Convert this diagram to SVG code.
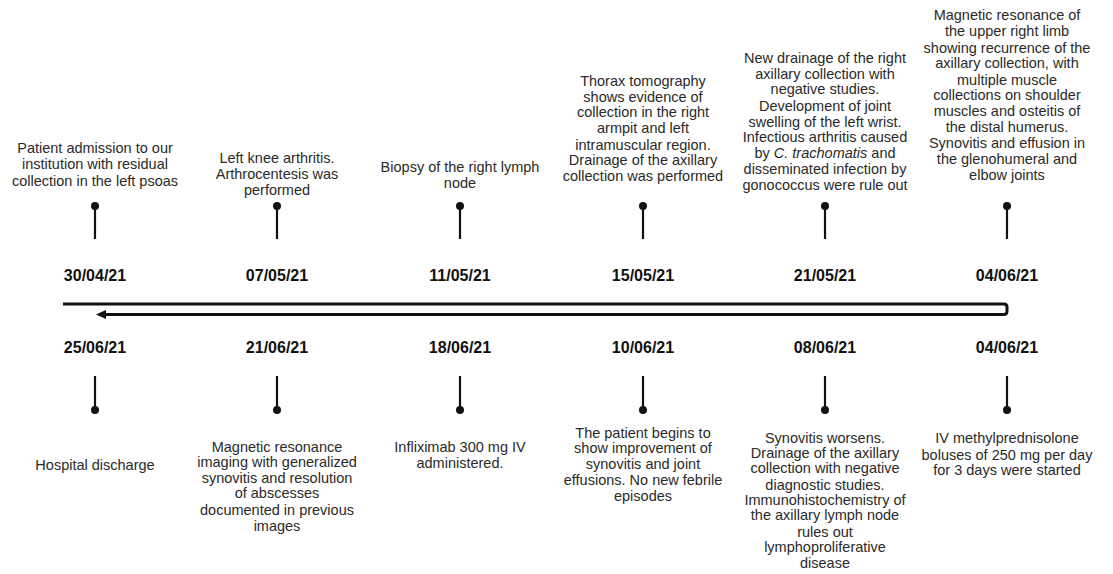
<svg xmlns="http://www.w3.org/2000/svg" width="1113" height="574" viewBox="0 0 1113 574">
<defs>
<style>
.t{font-family:"Liberation Sans",Arial,sans-serif;font-size:14.5px;fill:#2a2a2a;text-anchor:middle}
.d{font-family:"Liberation Sans",Arial,sans-serif;font-size:16px;font-weight:bold;fill:#111;text-anchor:middle}
.stem{stroke:#111;stroke-width:2.2;fill:none}
.dot{fill:#111}
.tl{stroke:#111;stroke-width:3;fill:none;stroke-linejoin:round}
</style>
<marker id="ah" markerWidth="10" markerHeight="8" refX="1" refY="4" orient="auto" markerUnits="userSpaceOnUse">
<path d="M0,4 L9,0 L9,8 Z" fill="#111"/>
</marker>
</defs>
<rect width="1113" height="574" fill="#fff"/>
<g id="connectors">
<path class="tl" d="M63,304 H1004 Q1007,304 1007,307 V311 Q1007,314.5 1004,314.5 H104"/>
<path d="M96,314.5 L106,310 L106,319 Z" fill="#111"/>
</g>
<g id="top1">
<line class="stem" x1="95" y1="206" x2="95" y2="239"/><circle class="dot" cx="95" cy="206" r="4"/>
<text class="d" x="95" y="281">30/04/21</text>
<text class="t" x="95" y="153">Patient admission to our</text>
<text class="t" x="95" y="169">institution with residual</text>
<text class="t" x="95" y="186">collection in the left psoas</text>
</g>
<g id="top2">
<line class="stem" x1="277" y1="206" x2="277" y2="239"/><circle class="dot" cx="277" cy="206" r="4"/>
<text class="d" x="277" y="281">07/05/21</text>
<text class="t" x="277" y="163">Left knee arthritis.</text>
<text class="t" x="277" y="179">Arthrocentesis was</text>
<text class="t" x="277" y="195">performed</text>
</g>
<g id="top3">
<line class="stem" x1="460" y1="206" x2="460" y2="239"/><circle class="dot" cx="460" cy="206" r="4"/>
<text class="d" x="460" y="281">11/05/21</text>
<text class="t" x="460" y="172">Biopsy of the right lymph</text>
<text class="t" x="460" y="188">node</text>
</g>
<g id="top4">
<line class="stem" x1="643" y1="206" x2="643" y2="239"/><circle class="dot" cx="643" cy="206" r="4"/>
<text class="d" x="643" y="281">15/05/21</text>
<text class="t" x="643" y="86">Thorax tomography</text>
<text class="t" x="643" y="102">shows evidence of</text>
<text class="t" x="643" y="117">collection in the right</text>
<text class="t" x="643" y="133">armpit and left</text>
<text class="t" x="643" y="150">intramuscular region.</text>
<text class="t" x="643" y="165">Drainage of the axillary</text>
<text class="t" x="643" y="181">collection was performed</text>
</g>
<g id="top5">
<line class="stem" x1="825" y1="206" x2="825" y2="239"/><circle class="dot" cx="825" cy="206" r="4"/>
<text class="d" x="825" y="281">21/05/21</text>
<text class="t" x="825" y="63">New drainage of the right</text>
<text class="t" x="825" y="79">axillary collection with</text>
<text class="t" x="825" y="94">negative studies.</text>
<text class="t" x="825" y="111">Development of joint</text>
<text class="t" x="825" y="127">swelling of the left wrist.</text>
<text class="t" x="825" y="142">Infectious arthritis caused</text>
<text class="t" x="825" y="158">by <tspan font-style="italic">C. trachomatis</tspan> and</text>
<text class="t" x="825" y="174">disseminated infection by</text>
<text class="t" x="825" y="190">gonococcus were rule out</text>
</g>
<g id="top6">
<line class="stem" x1="1007" y1="206" x2="1007" y2="239"/><circle class="dot" cx="1007" cy="206" r="4"/>
<text class="d" x="1007" y="281">04/06/21</text>
<text class="t" x="1007" y="20">Magnetic resonance of</text>
<text class="t" x="1007" y="36">the upper right limb</text>
<text class="t" x="1007" y="53">showing recurrence of the</text>
<text class="t" x="1007" y="68">axillary collection, with</text>
<text class="t" x="1007" y="85">multiple muscle</text>
<text class="t" x="1007" y="100">collections on shoulder</text>
<text class="t" x="1007" y="116">muscles and osteitis of</text>
<text class="t" x="1007" y="132">the distal humerus.</text>
<text class="t" x="1007" y="148">Synovitis and effusion in</text>
<text class="t" x="1007" y="164">the glenohumeral and</text>
<text class="t" x="1007" y="180">elbow joints</text>
</g>
<g id="bot1">
<line class="stem" x1="95" y1="376" x2="95" y2="410"/><circle class="dot" cx="95" cy="410" r="4"/>
<text class="d" x="95" y="353">25/06/21</text>
<text class="t" x="95" y="470">Hospital discharge</text>
</g>
<g id="bot2">
<line class="stem" x1="277" y1="376" x2="277" y2="410"/><circle class="dot" cx="277" cy="410" r="4"/>
<text class="d" x="277" y="353">21/06/21</text>
<text class="t" x="277" y="452">Magnetic resonance</text>
<text class="t" x="277" y="467">imaging with generalized</text>
<text class="t" x="277" y="483">synovitis and resolution</text>
<text class="t" x="277" y="498">of abscesses</text>
<text class="t" x="277" y="515">documented in previous</text>
<text class="t" x="277" y="531">images</text>
</g>
<g id="bot3">
<line class="stem" x1="460" y1="376" x2="460" y2="410"/><circle class="dot" cx="460" cy="410" r="4"/>
<text class="d" x="460" y="353">18/06/21</text>
<text class="t" x="460" y="452">Infliximab 300 mg IV</text>
<text class="t" x="460" y="468">administered.</text>
</g>
<g id="bot4">
<line class="stem" x1="643" y1="376" x2="643" y2="410"/><circle class="dot" cx="643" cy="410" r="4"/>
<text class="d" x="643" y="353">10/06/21</text>
<text class="t" x="643" y="438">The patient begins to</text>
<text class="t" x="643" y="453">show improvement of</text>
<text class="t" x="643" y="469">synovitis and joint</text>
<text class="t" x="643" y="485">effusions. No new febrile</text>
<text class="t" x="643" y="501">episodes</text>
</g>
<g id="bot5">
<line class="stem" x1="825" y1="376" x2="825" y2="410"/><circle class="dot" cx="825" cy="410" r="4"/>
<text class="d" x="825" y="353">08/06/21</text>
<text class="t" x="825" y="443">Synovitis worsens.</text>
<text class="t" x="825" y="458">Drainage of the axillary</text>
<text class="t" x="825" y="473">collection with negative</text>
<text class="t" x="825" y="490">diagnostic studies.</text>
<text class="t" x="825" y="505">Immunohistochemistry of</text>
<text class="t" x="825" y="520">the axillary lymph node</text>
<text class="t" x="825" y="537">rules out</text>
<text class="t" x="825" y="552">lymphoproliferative</text>
<text class="t" x="825" y="568">disease</text>
</g>
<g id="bot6">
<line class="stem" x1="1007" y1="376" x2="1007" y2="410"/><circle class="dot" cx="1007" cy="410" r="4"/>
<text class="d" x="1007" y="353">04/06/21</text>
<text class="t" x="1007" y="443">IV methylprednisolone</text>
<text class="t" x="1007" y="460">boluses of 250 mg per day</text>
<text class="t" x="1007" y="475">for 3 days were started</text>
</g>
</svg>
